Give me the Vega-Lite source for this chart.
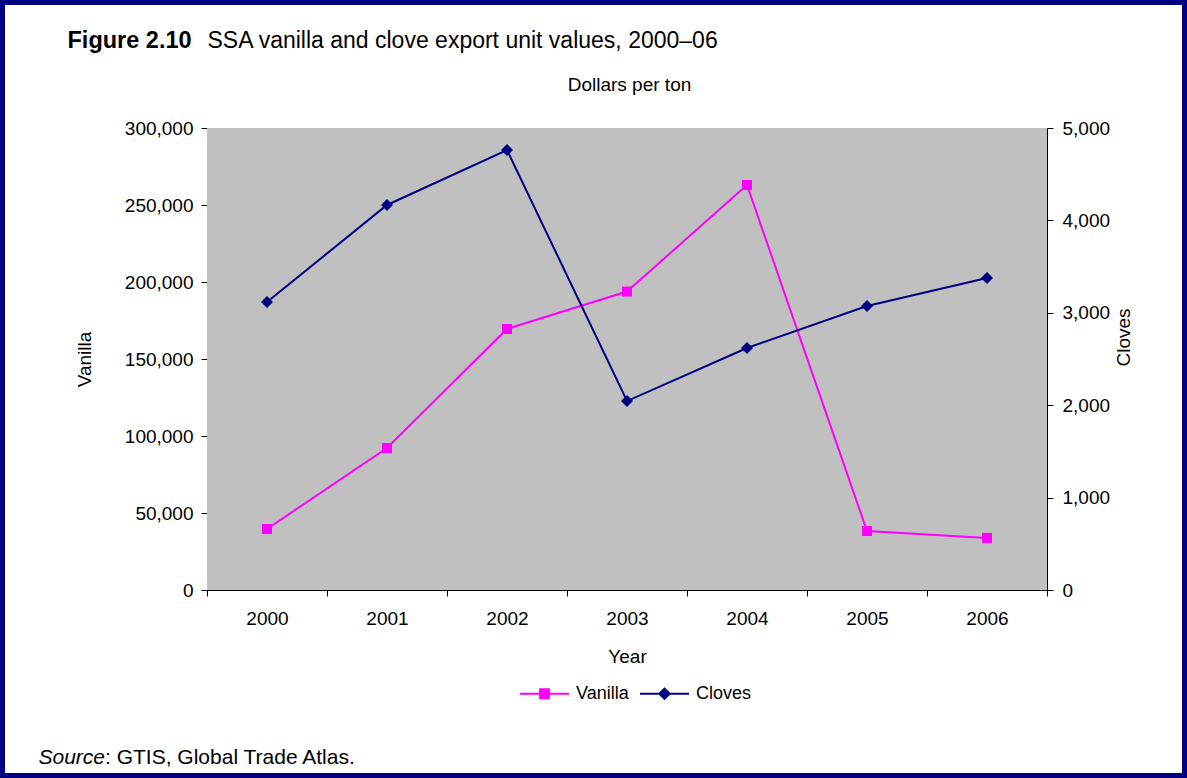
{
  "$schema": "https://vega.github.io/schema/vega-lite/v6.json",
  "width": 1187,
  "height": 778,
  "autosize": {"type": "none"},
  "padding": 0,
  "background": "white",
  "data": {
    "values": [
      {"year": "2000", "series": "Vanilla", "value": 39600},
      {"year": "2001", "series": "Vanilla", "value": 92200},
      {"year": "2002", "series": "Vanilla", "value": 169500},
      {"year": "2003", "series": "Vanilla", "value": 193800},
      {"year": "2004", "series": "Vanilla", "value": 263000},
      {"year": "2005", "series": "Vanilla", "value": 38300},
      {"year": "2006", "series": "Vanilla", "value": 33800},
      {"year": "2000", "series": "Cloves", "value": 3117},
      {"year": "2001", "series": "Cloves", "value": 4167},
      {"year": "2002", "series": "Cloves", "value": 4762},
      {"year": "2003", "series": "Cloves", "value": 2045},
      {"year": "2004", "series": "Cloves", "value": 2619},
      {"year": "2005", "series": "Cloves", "value": 3074},
      {"year": "2006", "series": "Cloves", "value": 3377}
    ]
  },
  "config": {
    "font": "Liberation Sans",
    "view": {"fill": "white", "stroke": "#000080", "strokeWidth": 10},
    "axis": {
      "labelFont": "Liberation Sans",
      "titleFont": "Liberation Sans",
      "labelColor": "black",
      "titleColor": "black",
      "domainColor": "black",
      "tickColor": "black",
      "grid": false,
      "labelFontSize": 19,
      "titleFontSize": 19,
      "titleFontWeight": "normal"
    }
  },
  "resolve": {
    "scale": {"y": "independent"},
    "axis": {"x": "independent", "y": "independent"}
  },
  "layer": [
    {
      "transform": [{"filter": "datum.series === 'Vanilla'"}],
      "mark": {"type": "bar", "color": "#C0C0C0", "strokeWidth": 0},
      "encoding": {
        "x": {
          "field": "year", "type": "ordinal",
          "scale": {"type": "band", "paddingInner": 0, "paddingOuter": 0, "range": [207, 1047], "domain": ["2000","2001","2002","2003","2004","2005","2006"]},
          "axis": null
        },
        "y": {
          "datum": 300000, "type": "quantitative",
          "scale": {"domain": [0, 300000], "nice": false, "range": [590, 128]},
          "axis": null
        },
        "y2": {"datum": 0}
      }
    },
    {
      "transform": [{"filter": "datum.series === 'Vanilla'"}],
      "mark": {"type": "line", "strokeWidth": 2},
      "encoding": {
        "x": {
          "field": "year", "type": "ordinal",
          "scale": {"type": "band", "paddingInner": 0, "paddingOuter": 0, "range": [207, 1047], "domain": ["2000","2001","2002","2003","2004","2005","2006"]},
          "axis": {"orient": "bottom", "offset": -188, "title": "Year", "tickBand": "extent", "tickSize": 6, "labelPadding": 13, "labelAngle": 0, "titleX": 627, "titleY": 72, "titleBaseline": "alphabetic", "titleAlign": "center"}
        },
        "y": {
          "field": "value", "type": "quantitative",
          "scale": {"domain": [0, 300000], "nice": false, "range": [590, 128]},
          "axis": {"orient": "left", "offset": -207, "title": "Vanilla", "values": [0, 50000, 100000, 150000, 200000, 250000, 300000], "format": ",.0f", "tickSize": 6, "labelPadding": 8, "titleAngle": 270, "titleX": -123, "titleY": 359, "titleBaseline": "middle", "titleAlign": "center"}
        },
        "color": {
          "field": "series", "type": "nominal",
          "scale": {"domain": ["Vanilla", "Cloves"], "range": ["#FF00FF", "#000080"]},
          "legend": {
            "orient": "none", "legendX": 520, "legendY": 669, "direction": "horizontal", "title": null,
            "symbolSize": 2401, "labelFontSize": 18, "labelFont": "Liberation Sans", "labelColor": "black",
            "labelOffset": 7, "columnPadding": 11, "padding": 0,
            "encode": {
              "symbols": {
                "update": {
                  "shape": {"signal": "datum.value === 'Vanilla' ? 'M-1,-0.04H1V0.04H-1Z M-0.22,-0.22H0.22V0.22H-0.22Z' : 'M-1,-0.04H1V0.04H-1Z M0,-0.27L0.27,0L0,0.27L-0.27,0Z'"},
                  "fill": {"signal": "datum.value === 'Vanilla' ? '#FF00FF' : '#000080'"},
                  "stroke": {"value": "transparent"},
                  "strokeWidth": {"value": 0},
                  "opacity": {"value": 1},
                  "fillOpacity": {"value": 1}
                }
              }
            }
          }
        }
      }
    },
    {
      "transform": [{"filter": "datum.series === 'Vanilla'"}],
      "mark": {"type": "point", "shape": "square", "filled": true, "size": 100, "color": "#FF00FF", "opacity": 1},
      "encoding": {
        "x": {
          "field": "year", "type": "ordinal",
          "scale": {"type": "band", "paddingInner": 0, "paddingOuter": 0, "range": [207, 1047], "domain": ["2000","2001","2002","2003","2004","2005","2006"]},
          "axis": {"orient": "top", "offset": -128, "title": "Dollars per ton", "labels": false, "ticks": false, "domain": true, "domainColor": "#808080", "titleX": 629, "titleY": -38, "titleBaseline": "alphabetic", "titleAlign": "center", "titleFontSize": 19}
        },
        "y": {
          "field": "value", "type": "quantitative",
          "scale": {"domain": [0, 300000], "nice": false, "range": [590, 128]},
          "axis": {"orient": "left", "offset": -207, "title": "Figure 2.10", "labels": false, "ticks": false, "domain": false, "titleAngle": 0, "titleX": -140, "titleY": 47, "titleAlign": "left", "titleBaseline": "alphabetic", "titleFontSize": 23.5, "titleFontWeight": "bold"}
        }
      }
    },
    {
      "transform": [{"filter": "datum.series === 'Cloves'"}],
      "mark": {"type": "line", "strokeWidth": 2},
      "encoding": {
        "x": {
          "field": "year", "type": "ordinal",
          "scale": {"type": "band", "paddingInner": 0, "paddingOuter": 0, "range": [207, 1047], "domain": ["2000","2001","2002","2003","2004","2005","2006"]},
          "axis": {"orient": "bottom", "offset": -188, "title": "SSA vanilla and clove export unit values, 2000–06", "labels": false, "ticks": false, "domain": false, "titleX": 207, "titleY": -543, "titleAlign": "left", "titleBaseline": "alphabetic", "titleFontSize": 23}
        },
        "y": {
          "field": "value", "type": "quantitative",
          "scale": {"domain": [0, 5000], "nice": false, "range": [590, 128]},
          "axis": {"orient": "right", "offset": -140, "title": "Cloves", "values": [0, 1000, 2000, 3000, 4000, 5000], "format": ",.0f", "tickSize": 6, "labelPadding": 9, "titleAngle": 270, "titleX": 76, "titleY": 337, "titleBaseline": "middle", "titleAlign": "center"}
        },
        "color": {
          "field": "series", "type": "nominal",
          "scale": {"domain": ["Vanilla", "Cloves"], "range": ["#FF00FF", "#000080"]}
        }
      }
    },
    {
      "transform": [{"filter": "datum.series === 'Cloves'"}],
      "mark": {"type": "point", "shape": "diamond", "filled": true, "size": 144, "color": "#000080", "opacity": 1},
      "encoding": {
        "x": {
          "field": "year", "type": "ordinal",
          "scale": {"type": "band", "paddingInner": 0, "paddingOuter": 0, "range": [207, 1047], "domain": ["2000","2001","2002","2003","2004","2005","2006"]},
          "axis": {"orient": "bottom", "offset": -188, "title": "Source", "labels": false, "ticks": false, "domain": false, "titleX": 38, "titleY": 173, "titleAlign": "left", "titleBaseline": "alphabetic", "titleFontSize": 21, "titleFontStyle": "italic"}
        },
        "y": {
          "field": "value", "type": "quantitative",
          "scale": {"domain": [0, 5000], "nice": false, "range": [590, 128]},
          "axis": {"orient": "left", "offset": -207, "title": ": GTIS, Global Trade Atlas.", "labels": false, "ticks": false, "domain": false, "titleAngle": 0, "titleX": -102.5, "titleY": 763, "titleAlign": "left", "titleBaseline": "alphabetic", "titleFontSize": 21}
        }
      }
    }
  ]
}
